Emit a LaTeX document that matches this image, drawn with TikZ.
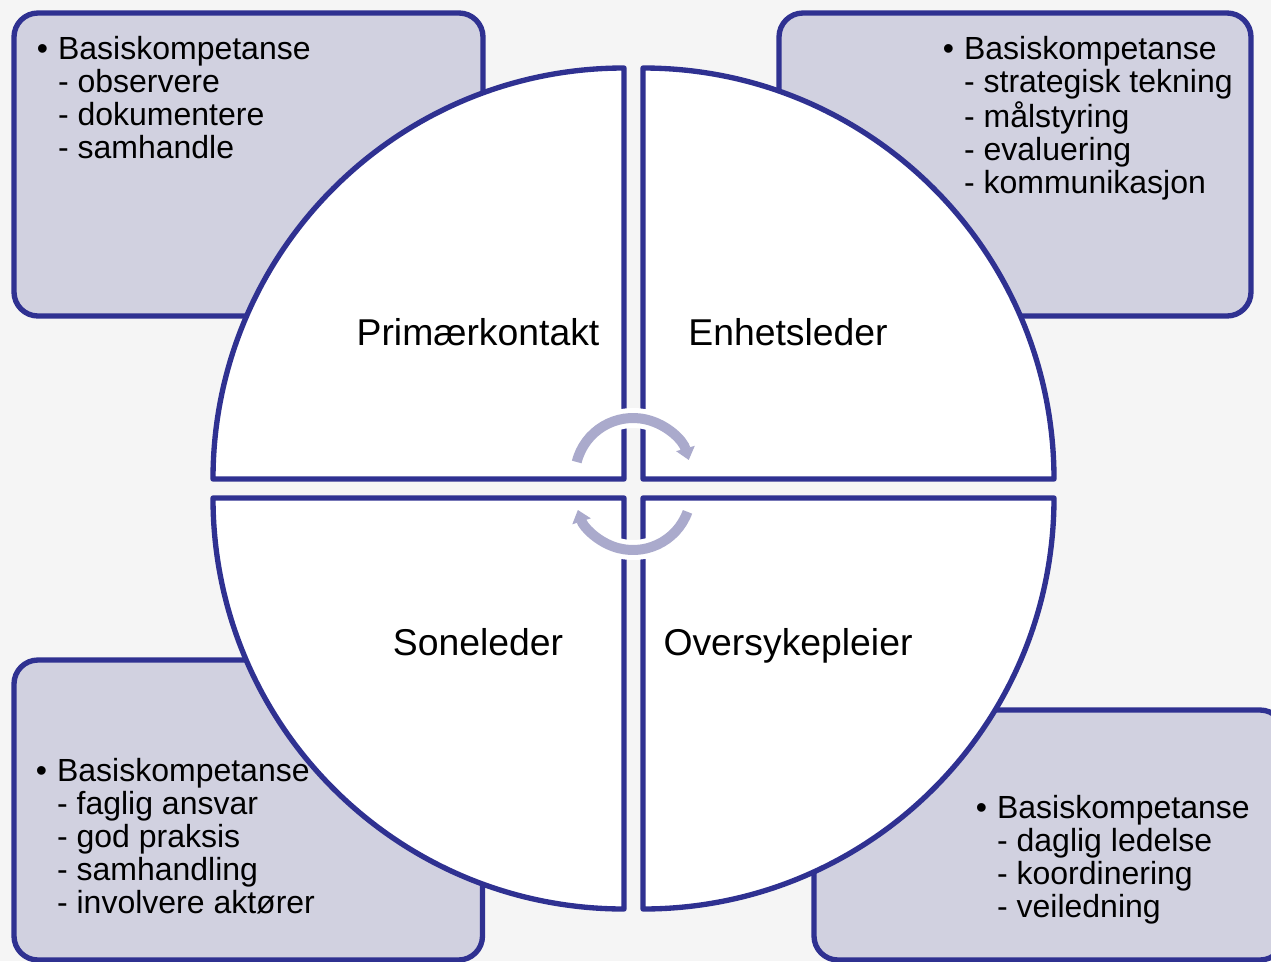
\documentclass[tikz,border=0pt]{standalone}
\usepackage{fontspec}
\setmainfont{Liberation Sans}
\usetikzlibrary{arrows.meta}
\definecolor{bgc}{HTML}{F5F5F5}
\definecolor{edgec}{HTML}{2F3191}
\definecolor{boxc}{HTML}{D1D1E0}
\definecolor{arrowc}{HTML}{AAAACC}
\newcommand{\bfirst}[1]{\makebox[16pt][l]{•}&#1}
\tikzset{
  px/.style={x=0.75pt,y=-0.75pt},
  infobox/.style={draw=edgec,fill=boxc,line width=4pt,rounded corners=18pt},
  piece/.style={draw=edgec,fill=white,line width=4pt,line join=round},
  boxtext/.style={anchor=base west,inner sep=0pt,font=\fontsize{24}{24.75}\selectfont},
  lab/.style={anchor=base,inner sep=0pt,font=\fontsize{28}{33}\selectfont},
  cyc/.style={draw=arrowc,line width=7.5pt,-{Triangle[width=14pt,length=9pt]}},
  halo/.style={draw=white,line width=15pt}
}
\begin{document}
\begin{tikzpicture}[px]
\clip (0,0) rectangle (1271,961);
\fill[bgc] (0,0) rectangle (1271,961);
% boxes
\draw[infobox] (14,13) rectangle (483,316);
\draw[infobox] (779,13) rectangle (1251,316);
\draw[infobox] (14,660) rectangle (482.5,960);
\draw[infobox] (814,710) rectangle (1284,960);
% box texts
\node[boxtext] (t1) at (36.5,59) {\begin{tabular}[t]{@{}l@{}l@{}}\bfirst{Basiskompetanse}\\ &- observere\\ &- dokumentere\\ &- samhandle\end{tabular}};
\node[boxtext] (t2) at (942.5,59) {\begin{tabular}[t]{@{}l@{}l@{}}\bfirst{Basiskompetanse}\\ &- strategisk tekning\\ &- målstyring\\ &- evaluering\\ &- kommunikasjon\end{tabular}};
\node[boxtext] (t3) at (35.5,781) {\begin{tabular}[t]{@{}l@{}l@{}}\bfirst{Basiskompetanse}\\ &- faglig ansvar\\ &- god praksis\\ &- samhandling\\ &- involvere aktører\end{tabular}};
\node[boxtext] (t4) at (975.5,818) {\begin{tabular}[t]{@{}l@{}l@{}}\bfirst{Basiskompetanse}\\ &- daglig ledelse\\ &- koordinering\\ &- veiledning\end{tabular}};
% quarter pieces
\draw[piece] (624,479) -- (213,479) arc[start angle=180,end angle=270,radius=411] -- cycle;
\draw[piece] (643,479) -- (643,68) arc[start angle=270,end angle=360,radius=411] -- cycle;
\draw[piece] (624,498) -- (624,909) arc[start angle=90,end angle=180,radius=411] -- cycle;
\draw[piece] (643,498) -- (1054,498) arc[start angle=0,end angle=90,radius=411] -- cycle;
% labels
\node[lab] (l1) at (478,345) {Primærkontakt};
\node[lab] (l2) at (788,345) {Enhetsleder};
\node[lab] (l3) at (478,655) {Soneleder};
\node[lab] (l4) at (788,655) {Oversykepleier};
% cycle arrows
\coordinate (c1) at (633,476);
\coordinate (c2) at (633,492);
\draw[halo] (c1) ++(250:58) arc[start angle=250,end angle=290,radius=58];
\draw[halo] (c2) ++(70:58) arc[start angle=70,end angle=110,radius=58];
\draw[cyc] (c1) ++(194:58) arc[start angle=194,end angle=344,radius=58];
\draw[cyc] (c2) ++(20:58) arc[start angle=20,end angle=162,radius=58];
\end{tikzpicture}
\end{document}
